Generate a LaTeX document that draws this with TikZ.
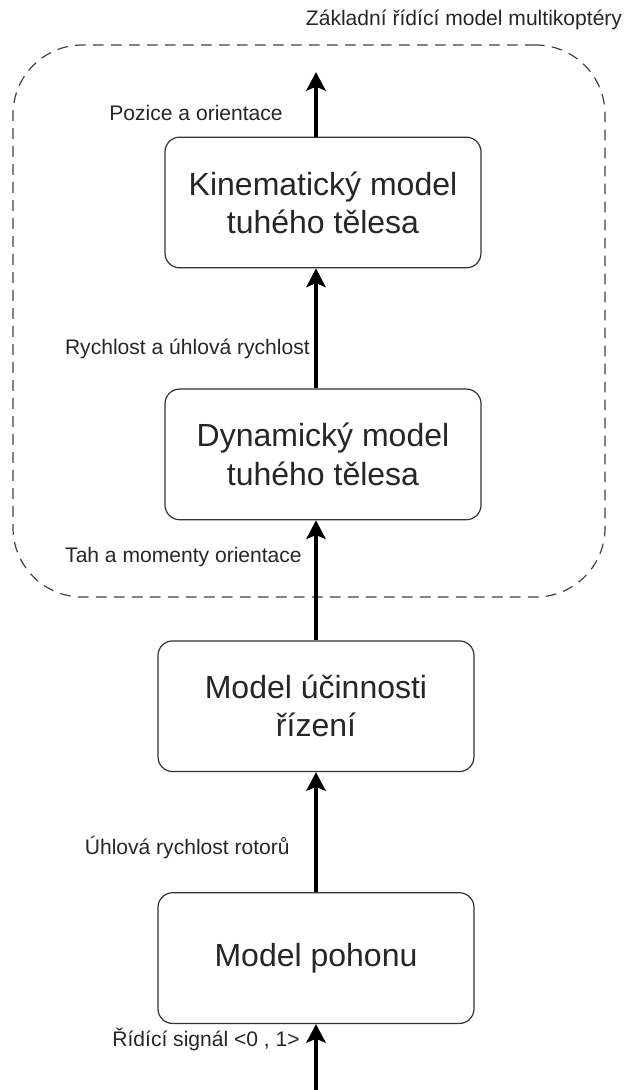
\documentclass[tikz,border=0pt]{standalone}
\usepackage{fontspec}
\setmainfont{Liberation Sans}
\usetikzlibrary{arrows.meta,positioning}
\tikzstyle{every node}=[font=\fontsize{15.8}{19}\selectfont,text=black!85]
\tikzstyle{block}=[rectangle,
                   rounded corners=11pt,
                   draw=black!80,
                   line width=0.9pt,
                   minimum width=237pt,
                   minimum height=98pt,
                   align=center,
                   font=\fontsize{24}{28.5}\selectfont]
\tikzstyle{group}=[rectangle,
                   rounded corners=52pt,
                   draw=black!75,
                   line width=0.9pt,
                   dash pattern=on 8pt off 5.5pt,
                   minimum width=444pt,
                   minimum height=414pt]
\tikzstyle{flow}=[line width=2.6pt,-{Stealth[length=14pt,width=14.5pt,inset=3pt]}]
\tikzstyle{lbl}=[anchor=east,inner sep=0pt]

\begin{document}
\begin{tikzpicture}[x=0.75pt,y=-0.75pt,node distance=90pt]
\useasboundingbox (0,0) rectangle (626,1090);
% dashed frame of the basic model
\node (grp) [group] at (309,321) {};
\node (title) at (464,20) {Základní řídící model multikoptéry};
\node (kinem) [block] at (323,202.5) {Kinematický model\\tuhého tělesa};
\node (dynam) [block,below=of kinem] {Dynamický model\\tuhého tělesa};
\node (ucin) [block,below=of dynam,xshift=-5.25pt] {Model účinnosti\\řízení};
\node (pohon) [block,below=of ucin] {Model pohonu};
\coordinate (out) at (316,72);
\coordinate (in) at (316,1090);
\draw[flow] (kinem.north -| out) -- (out);
\draw[flow] (dynam.north -| out) -- (kinem.south -| out);
\draw[flow] (ucin) -- (dynam.south -| ucin);
\draw[flow] (pohon) -- (ucin);
\draw[flow] (in) -- (pohon);
% signal names
\node (l1) [lbl] at (283,113) {Pozice a orientace};
\node (l2) [lbl] at (310,349) {Rychlost a úhlová rychlost};
\node (l3) [lbl] at (302,557) {Tah a momenty orientace};
\node (l4) [lbl] at (290,848) {Úhlová rychlost rotorů};
\node (l5) [lbl] at (300,1039) {Řídící signál <0 , 1>};
\end{tikzpicture}
\end{document}
